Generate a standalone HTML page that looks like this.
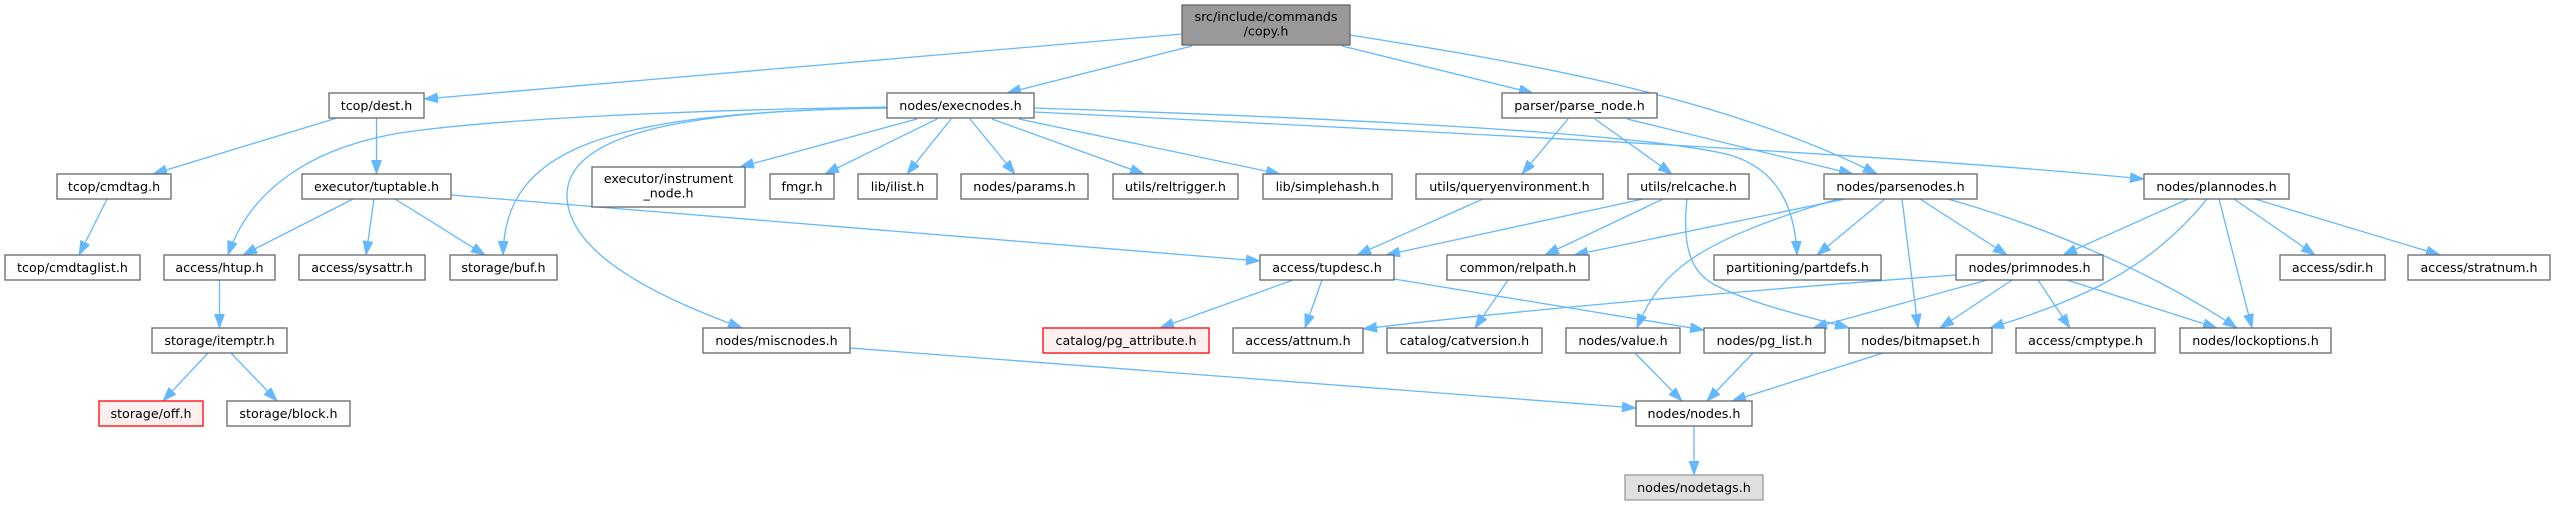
<!DOCTYPE html>
<html>
<head>
<meta charset="utf-8">
<style>
html,body{margin:0;padding:0;background:#fff;}
svg{display:block;}
text{font-family:"DejaVu Sans","Liberation Sans",sans-serif;font-size:12.7px;fill:#000;text-anchor:middle;}
.n{fill:#fff;stroke:#666;stroke-width:1.3;}
.r{fill:#FFF0F0;stroke:#FF0000;stroke-width:1.3;}
.g{fill:#E0E0E0;stroke:#999;stroke-width:1.3;}
.c{fill:#999;stroke:#666;stroke-width:1.3;}
.e{fill:none;stroke:#63B8FF;stroke-width:1.3;marker-end:url(#ah);}
</style>
</head>
<body>
<svg width="2555" height="505" viewBox="0 0 2555 505" xmlns="http://www.w3.org/2000/svg">
<defs>
<marker id="ah" markerUnits="userSpaceOnUse" markerWidth="15" markerHeight="11" refX="14" refY="5" orient="auto">
<path d="M0,0 L14,5 L0,10 z" fill="#63B8FF" stroke="#63B8FF" stroke-width="0.8"/>
</marker>
</defs>

<!-- edges -->
<path class="e" d="M1182,34 L424,99"/>
<path class="e" d="M1192,46 L1007,93"/>
<path class="e" d="M1342,46 L1533,93"/>
<path class="e" d="M1350,35 C1520,62 1720,95 1877,174"/>

<path class="e" d="M337,118 L153,174"/>
<path class="e" d="M376.5,118 L376.5,174"/>
<path class="e" d="M107,199 L79,255"/>
<path class="e" d="M353,199 L243,255"/>
<path class="e" d="M374,199 L366,255"/>
<path class="e" d="M395,199 L485,255"/>
<path class="e" d="M451,195 L1260,261"/>

<path class="e" d="M887,107 C700,110 500,118 400,133 C310,148 250,190 228,255"/>
<path class="e" d="M887,108 C600,112 505,150 503,255"/>
<path class="e" d="M887,108 C700,110 567,130 567,195 C567,260 680,305 742,328"/>
<path class="e" d="M917,119 L740,167"/>
<path class="e" d="M937,119 L825,174"/>
<path class="e" d="M951,119 L907,174"/>
<path class="e" d="M970,119 L1015,174"/>
<path class="e" d="M992,119 L1144,174"/>
<path class="e" d="M1019,119 L1280,174"/>
<path class="e" d="M1034,112 C1500,135 1900,155 2144,179"/>
<path class="e" d="M1034,108 C1400,120 1650,135 1730,155 C1780,170 1795,210 1797,255"/>

<path class="e" d="M1568,119 L1522,174"/>
<path class="e" d="M1595,119 L1672,174"/>
<path class="e" d="M1627,119 L1853,174"/>

<path class="e" d="M1483,199 L1357,255"/>
<path class="e" d="M1643,199 L1386,255"/>
<path class="e" d="M1663,199 L1545,255"/>
<path class="e" d="M1687,199 C1682,245 1690,272 1715,285 C1750,303 1800,315 1849,328"/>

<path class="e" d="M1845,199 L1574,255"/>
<path class="e" d="M1838,199 C1700,240 1660,270 1637,328"/>
<path class="e" d="M1885,199 L1817,255"/>
<path class="e" d="M1902,199 L1918,328"/>
<path class="e" d="M1920,199 L2007,255"/>
<path class="e" d="M1948,199 C2040,225 2150,270 2237,328"/>

<path class="e" d="M2188,199 L2063,255"/>
<path class="e" d="M2207,199 C2150,270 2080,300 1990,328"/>
<path class="e" d="M2219,199 L2252,328"/>
<path class="e" d="M2234,199 L2315,255"/>
<path class="e" d="M2255,199 L2440,255"/>

<path class="e" d="M1956,275 C1750,290 1500,312 1363,329"/>
<path class="e" d="M1987,280 L1813,328"/>
<path class="e" d="M2012,280 L1940,328"/>
<path class="e" d="M2038,280 L2070,328"/>
<path class="e" d="M2067,280 L2217,328"/>

<path class="e" d="M1293,280 L1160,328"/>
<path class="e" d="M1322,280 L1305,328"/>
<path class="e" d="M1394,279 L1704,330"/>
<path class="e" d="M1508,280 L1475,328"/>

<path class="e" d="M219.5,280 L219.5,328"/>
<path class="e" d="M208,353 L163,401"/>
<path class="e" d="M231,353 L277,401"/>

<path class="e" d="M850,348 L1636,408"/>
<path class="e" d="M1635,353 L1682,401"/>
<path class="e" d="M1753,353 L1707,401"/>
<path class="e" d="M1883,353 L1732,401"/>
<path class="e" d="M1694,426 L1694,475"/>

<!-- nodes -->
<rect class="c" x="1182" y="5" width="168" height="40"/>
<text x="1266" y="21">src/include/commands</text>
<text x="1266" y="35.5">/copy.h</text>

<rect class="n" x="329" y="93" width="95" height="25"/><text x="376.5" y="109.8">tcop/dest.h</text>
<rect class="n" x="887" y="93" width="147" height="25"/><text x="960.5" y="109.8">nodes/execnodes.h</text>
<rect class="n" x="1502" y="93" width="155" height="25"/><text x="1579.5" y="109.8">parser/parse_node.h</text>

<rect class="n" x="57" y="174" width="114" height="25"/><text x="114" y="190.8">tcop/cmdtag.h</text>
<rect class="n" x="302" y="174" width="149" height="25"/><text x="376.5" y="190.8">executor/tuptable.h</text>
<rect class="n" x="592" y="167" width="153" height="40"/>
<text x="668.5" y="183">executor/instrument</text>
<text x="668.5" y="197.5">_node.h</text>
<rect class="n" x="770" y="174" width="64" height="25"/><text x="802" y="190.8">fmgr.h</text>
<rect class="n" x="858" y="174" width="79" height="25"/><text x="897.5" y="190.8">lib/ilist.h</text>
<rect class="n" x="961" y="174" width="127" height="25"/><text x="1024.5" y="190.8">nodes/params.h</text>
<rect class="n" x="1113" y="174" width="125" height="25"/><text x="1175.5" y="190.8">utils/reltrigger.h</text>
<rect class="n" x="1263" y="174" width="129" height="25"/><text x="1327.5" y="190.8">lib/simplehash.h</text>
<rect class="n" x="1416" y="174" width="187" height="25"/><text x="1509.5" y="190.8">utils/queryenvironment.h</text>
<rect class="n" x="1628" y="174" width="121" height="25"/><text x="1688.5" y="190.8">utils/relcache.h</text>
<rect class="n" x="1824" y="174" width="153" height="25"/><text x="1900.5" y="190.8">nodes/parsenodes.h</text>
<rect class="n" x="2144" y="174" width="145" height="25"/><text x="2216.5" y="190.8">nodes/plannodes.h</text>

<rect class="n" x="5" y="255" width="135" height="25"/><text x="72.5" y="271.8">tcop/cmdtaglist.h</text>
<rect class="n" x="164" y="255" width="111" height="25"/><text x="219.5" y="271.8">access/htup.h</text>
<rect class="n" x="299" y="255" width="126" height="25"/><text x="362" y="271.8">access/sysattr.h</text>
<rect class="n" x="450" y="255" width="107" height="25"/><text x="503.5" y="271.8">storage/buf.h</text>
<rect class="n" x="1260" y="255" width="134" height="25"/><text x="1327" y="271.8">access/tupdesc.h</text>
<rect class="n" x="1447" y="255" width="142" height="25"/><text x="1518" y="271.8">common/relpath.h</text>
<rect class="n" x="1714" y="255" width="167" height="25"/><text x="1797.5" y="271.8">partitioning/partdefs.h</text>
<rect class="n" x="1956" y="255" width="147" height="25"/><text x="2029.5" y="271.8">nodes/primnodes.h</text>
<rect class="n" x="2280" y="255" width="105" height="25"/><text x="2332.5" y="271.8">access/sdir.h</text>
<rect class="n" x="2408" y="255" width="142" height="25"/><text x="2479" y="271.8">access/stratnum.h</text>

<rect class="n" x="152" y="328" width="135" height="25"/><text x="219.5" y="344.8">storage/itemptr.h</text>
<rect class="n" x="703" y="328" width="147" height="25"/><text x="776.5" y="344.8">nodes/miscnodes.h</text>
<rect class="r" x="1043" y="328" width="166" height="25"/><text x="1126" y="344.8">catalog/pg_attribute.h</text>
<rect class="n" x="1233" y="328" width="130" height="25"/><text x="1298" y="344.8">access/attnum.h</text>
<rect class="n" x="1387" y="328" width="155" height="25"/><text x="1464.5" y="344.8">catalog/catversion.h</text>
<rect class="n" x="1566" y="328" width="114" height="25"/><text x="1623" y="344.8">nodes/value.h</text>
<rect class="n" x="1704" y="328" width="121" height="25"/><text x="1764.5" y="344.8">nodes/pg_list.h</text>
<rect class="n" x="1849" y="328" width="143" height="25"/><text x="1920.5" y="344.8">nodes/bitmapset.h</text>
<rect class="n" x="2016" y="328" width="139" height="25"/><text x="2085.5" y="344.8">access/cmptype.h</text>
<rect class="n" x="2180" y="328" width="151" height="25"/><text x="2255.5" y="344.8">nodes/lockoptions.h</text>

<rect class="r" x="99" y="401" width="104" height="25"/><text x="151" y="417.8">storage/off.h</text>
<rect class="n" x="227" y="401" width="123" height="25"/><text x="288.5" y="417.8">storage/block.h</text>
<rect class="n" x="1636" y="401" width="116" height="25"/><text x="1694" y="417.8">nodes/nodes.h</text>

<rect class="g" x="1625" y="475" width="138" height="25"/><text x="1694" y="491.8">nodes/nodetags.h</text>
</svg>
</body>
</html>
